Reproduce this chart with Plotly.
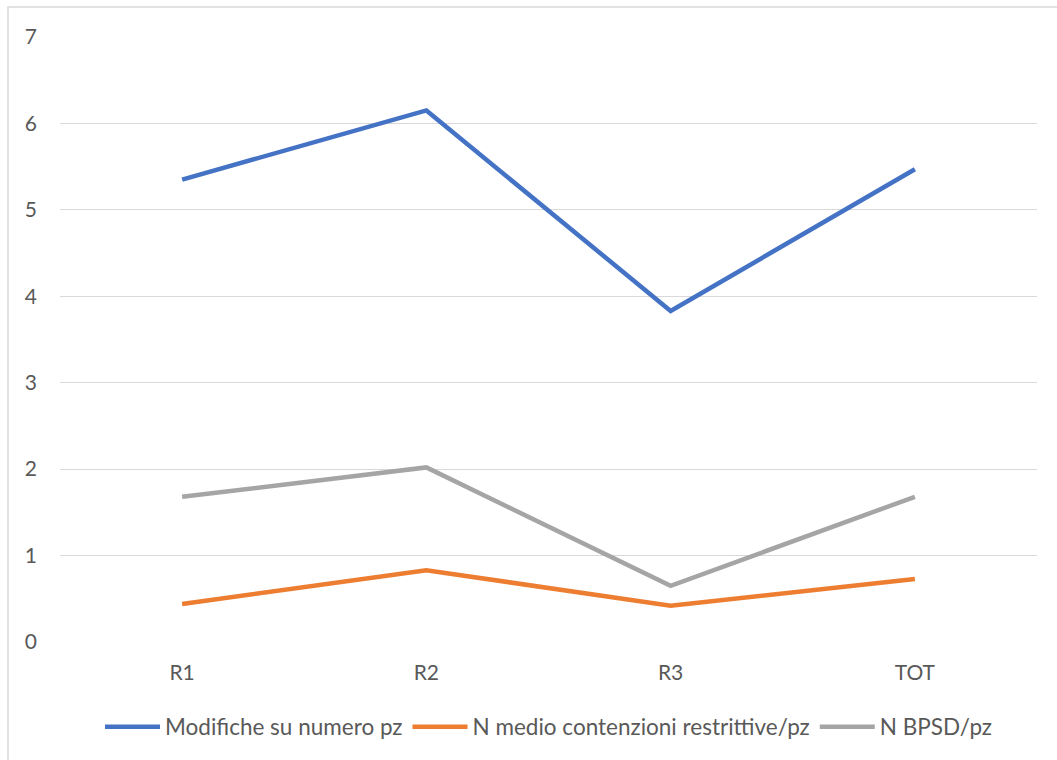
import plotly.graph_objects as go

categories = ["R1", "R2", "R3", "TOT"]
modifiche = [5.35, 6.15, 3.83, 5.47]
contenzioni = [0.44, 0.83, 0.42, 0.73]
bpsd = [1.68, 2.02, 0.65, 1.68]

names = ["Modifiche su numero pz", "N medio contenzioni restrittive/pz", "N BPSD/pz"]
colors = ["#4472C4", "#ED7D31", "#A5A5A5"]

fig = go.Figure()
for vals, name, col in zip([modifiche, contenzioni, bpsd], names, colors):
    fig.add_trace(go.Scatter(x=categories, y=vals, mode="lines", name=name,
                             line=dict(color=col, width=4.5)))

L, R, T, B = 60, 20, 37, 118
W, H = 1057, 760
pw, ph = W - L - R, H - T - B

fig.update_layout(
    width=W, height=H,
    margin=dict(l=L, r=R, t=T, b=B),
    paper_bgcolor="white", plot_bgcolor="white",
    font=dict(family="Lato, Carlito, Calibri, sans-serif", size=21, color="#595959"),
    xaxis=dict(type="category", range=[-0.5, 3.5], showgrid=False, showline=False,
               zeroline=False, ticks="", ticklabelstandoff=16),
    yaxis=dict(range=[0, 7], dtick=1, showgrid=True, gridcolor="#D9D9D9", gridwidth=1.3,
               zeroline=False, showline=False, ticks="", ticklabelstandoff=22),
    legend=dict(orientation="h", x=0.5, xanchor="center", y=(T + ph - 727) / ph,
                yanchor="middle", font=dict(size=22.5, color="#595959"),
                itemwidth=55, tracegroupgap=0),
    showlegend=True,
)

fig.add_shape(type="rect", xref="paper", yref="paper",
              x0=(8 - L) / pw, x1=(W + 10 - L) / pw,
              y0=(T + ph - (H + 10)) / ph, y1=(T + ph - 7) / ph,
              line=dict(color="#D9D9D9", width=1.5), fillcolor="rgba(0,0,0,0)", layer="below")

fig.write_html("out.html")
